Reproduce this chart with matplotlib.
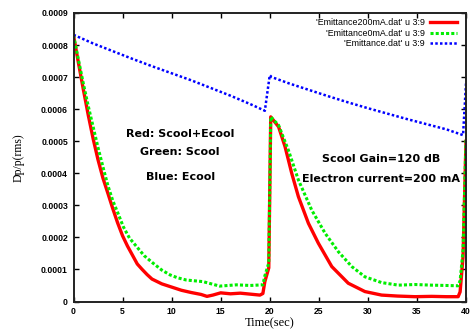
import matplotlib
matplotlib.use("Agg")
import matplotlib.pyplot as plt
import numpy as np
from matplotlib.ticker import MultipleLocator, FuncFormatter

# emittance vs time, values in units of 1e-4
red_t = [0, 0.5, 1.0, 1.5, 2.0, 2.5, 3.0, 3.5, 4.0, 4.5, 5.0, 5.5, 6.0, 6.5, 7.0, 7.5, 8.0,
         9.0, 10.0, 11.0, 12.0, 13.0, 13.6, 14.2, 15.0, 16.0, 17.0, 18.0, 19.0, 19.3, 19.5,
         19.9, 20.1, 20.9, 21.56, 22.24, 22.92, 23.94, 24.95, 26.32, 28.0, 29.7, 31.4,
         33.0, 34.8, 36.5, 38.0, 39.2, 39.4, 39.7, 40.0]
red_v = [8.30, 7.45, 6.62, 5.82, 5.08, 4.42, 3.85, 3.38, 2.90, 2.45, 2.05, 1.73, 1.45, 1.17,
         1.00, 0.84, 0.70, 0.55, 0.45, 0.35, 0.28, 0.22, 0.16, 0.20, 0.27, 0.24, 0.26, 0.23,
         0.20, 0.25, 0.62, 1.05, 5.76, 5.45, 4.83, 4.00, 3.27, 2.44, 1.82, 1.09, 0.57, 0.31,
         0.20, 0.17, 0.15, 0.16, 0.15, 0.15, 0.30, 1.40, 5.00]

green_t = [0, 0.5, 1.0, 1.5, 2.0, 2.5, 3.0, 3.5, 4.0, 4.4, 5.08, 5.7, 6.44, 7.2, 8.13, 9.0,
           9.84, 10.6, 11.5, 13.2, 14.9, 16.6, 18.0, 19.3, 19.5, 19.9, 20.1, 20.9, 21.9,
           22.92, 24.28, 25.64, 27.0, 28.36, 29.7, 31.4, 33.1, 34.8, 36.5, 38.0, 39.2,
           39.4, 39.7, 40.0]
green_v = [8.30, 7.55, 6.80, 6.10, 5.45, 4.80, 4.20, 3.62, 3.15, 2.85, 2.33, 1.98, 1.71, 1.43,
           1.19, 0.98, 0.83, 0.74, 0.67, 0.62, 0.48, 0.52, 0.50, 0.52, 0.80, 1.20, 5.76,
           5.50, 4.72, 3.79, 2.85, 2.13, 1.55, 1.09, 0.77, 0.59, 0.51, 0.53, 0.51, 0.50,
           0.49, 0.65, 1.60, 5.10]

blue_t = [0, 2, 4, 6, 8, 10, 12, 14, 16, 18, 19.5, 20.0, 20.2, 22, 24, 26, 28, 30, 32, 34,
          36, 38, 39.7, 40.0]
blue_v = [8.32, 8.05, 7.81, 7.57, 7.34, 7.12, 6.90, 6.66, 6.42, 6.16, 5.95, 7.06, 7.00,
          6.80, 6.60, 6.40, 6.21, 6.03, 5.86, 5.69, 5.53, 5.37, 5.19, 6.80]

labels = ["'Emittance200mA.dat' u 3:9", "'Emittance0mA.dat' u 3:9", "'Emittance.dat' u 3:9"]

scale = 1e-4

fig = plt.figure(figsize=(4.71, 3.30), dpi=100)
ax = fig.add_axes([73.5 / 471, 28.5 / 330, 392.5 / 471, 288.5 / 330])

ax.plot(red_t, np.array(red_v) * scale, color="#ff0000", lw=2.4, label=labels[0])
ax.plot(green_t, np.array(green_v) * scale, color="#00ee00", lw=2.2,
        linestyle=(0, (1, 0.7)), dash_capstyle="butt", label=labels[1])
ax.plot(blue_t, np.array(blue_v) * scale, color="#0000ff", lw=1.8,
        linestyle=(0, (1, 0.9)), dash_capstyle="butt", label=labels[2])

ax.set_xlim(0, 40)
ax.set_ylim(0, 0.0009)
ax.xaxis.set_major_locator(MultipleLocator(5))
ax.yaxis.set_major_locator(MultipleLocator(0.0001))
ax.yaxis.set_major_formatter(FuncFormatter(lambda v, p: "0" if abs(v) < 1e-12 else "%.4f" % v))
ax.tick_params(direction="in", top=True, right=True, length=3.5, width=1,
               labelsize=6.2, pad=4)
for lab in ax.get_xticklabels() + ax.get_yticklabels():
    lab.set_fontweight("bold")
    lab.set_family("Liberation Sans")
for sp in ax.spines.values():
    sp.set_linewidth(1.4)
    sp.set_color("#222222")

ax.set_xlabel("Time(sec)", family="Liberation Serif", fontsize=9, labelpad=1)
ax.set_ylabel("Dp/p(rms)", family="Liberation Serif", fontsize=8.5, labelpad=12)

ax.text(10.86, 5.22e-4, "Red: Scool+Ecool", ha="center", va="center",
        fontsize=8, fontweight="bold")
ax.text(10.86, 4.66e-4, "Green: Scool", ha="center", va="center",
        fontsize=8, fontweight="bold")
ax.text(10.86, 3.88e-4, "Blue: Ecool", ha="center", va="center",
        fontsize=8, fontweight="bold")
ax.text(31.35, 4.44e-4, "Scool Gain=120 dB", ha="center", va="center",
        fontsize=8, fontweight="bold")
ax.text(31.35, 3.82e-4, "Electron current=200 mA", ha="center", va="center",
        fontsize=8, fontweight="bold")

ax.legend(loc="upper right", bbox_to_anchor=(0.976, 0.983), frameon=False,
          markerfirst=False, prop={"family": "Liberation Sans", "size": 6.4},
          handlelength=3.0, handletextpad=0.6, borderpad=0, borderaxespad=0,
          labelspacing=0.2)

fig.savefig("out.png", dpi=100)
